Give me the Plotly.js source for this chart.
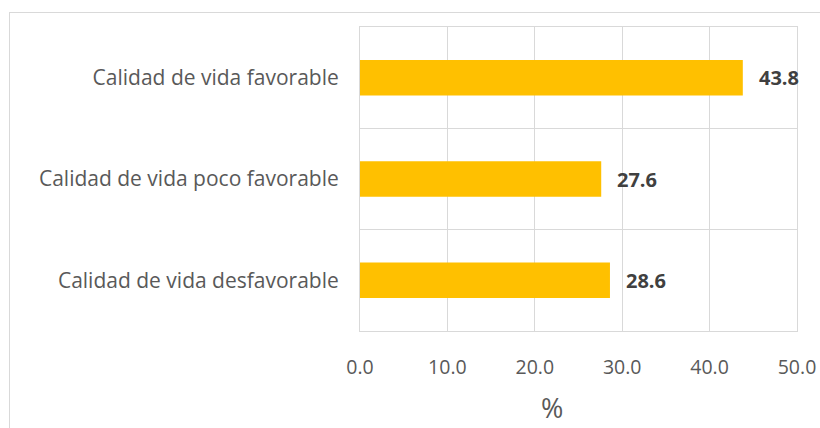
<!DOCTYPE html>
<html>
<head>
<meta charset="utf-8">
<script src="https://cdn.plot.ly/plotly-3.0.1.min.js"></script>
<style>
html,body{margin:0;padding:0;background:#fff;overflow:hidden;}
#wrap{position:relative;width:820px;height:428px;}
#chart{width:820px;height:428px;}
#frame{position:absolute;left:9px;top:12px;width:900px;height:500px;border:1px solid #d9d9d9;pointer-events:none;box-sizing:border-box;}
</style>
</head>
<body>
<div id="wrap"><div id="chart"></div><div id="frame"></div></div>
<script>
const categories = ["Calidad de vida desfavorable", "Calidad de vida poco favorable", "Calidad de vida favorable"];
const values = [28.6, 27.6, 43.8];
const xTickVals = [0, 10, 20, 30, 40, 50];
const xTickText = ["0.0", "10.0", "20.0", "30.0", "40.0", "50.0"];
const axisTitle = "%";

const FONT = "Open Sans, sans-serif";
const trace = {
  type: "bar",
  orientation: "h",
  y: categories,
  x: values,
  marker: {color: "#FFC000"},
  cliponaxis: false,
  hoverinfo: "none"
};
const valueLabels = categories.map((c, i) => ({
  x: values[i], y: c, xref: "x", yref: "y",
  text: "<b>" + values[i].toFixed(1) + "</b>",
  xanchor: "left", yanchor: "middle", xshift: 14,
  showarrow: false,
  font: {family: FONT, size: 20, color: "#404040"}
}));
const layout = {
  width: 820, height: 428,
  margin: {l: 360, r: 23, t: 27, b: 97},
  paper_bgcolor: "#fff", plot_bgcolor: "#fff",
  showlegend: false,
  bargap: 0.65,
  xaxis: {
    range: [0, 50],
    tickvals: xTickVals, ticktext: xTickText,
    showgrid: true, gridcolor: "#d9d9d9", gridwidth: 1,
    zeroline: false,
    showline: true, mirror: true, linecolor: "#d9d9d9", linewidth: 1,
    ticks: "", ticklabelstandoff: 19,
    tickfont: {family: FONT, size: 19.5, color: "#595959"}
  },
  yaxis: {
    type: "category",
    tickson: "boundaries",
    showgrid: true, gridcolor: "#d9d9d9", gridwidth: 1,
    zeroline: false,
    showline: true, mirror: true, linecolor: "#d9d9d9", linewidth: 1,
    ticks: "", ticklabelstandoff: 16,
    tickfont: {family: FONT, size: 21, color: "#595959"}
  },
  annotations: valueLabels.concat([{
    text: axisTitle, xref: "paper", yref: "paper",
    x: 0.439, y: -0.25, xanchor: "center", yanchor: "middle",
    showarrow: false, font: {family: FONT, size: 27, color: "#595959"}
  }])
};
Plotly.newPlot("chart", [trace], layout, {displayModeBar: false, staticPlot: true});
</script>
</body>
</html>
